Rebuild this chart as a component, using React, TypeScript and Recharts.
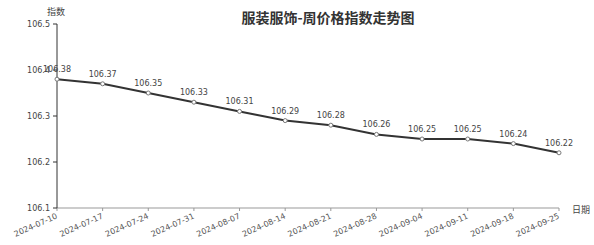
import React from "react"
import { LineChart, Line, XAxis, YAxis, LabelList } from "recharts"

// weekly apparel price index
const dates = [
  "2024-07-10", "2024-07-17", "2024-07-24", "2024-07-31", "2024-08-07", "2024-08-14",
  "2024-08-21", "2024-08-28", "2024-09-04", "2024-09-11", "2024-09-18", "2024-09-25",
]
const indexValues = [106.38, 106.37, 106.35, 106.33, 106.31, 106.29, 106.28, 106.26, 106.25, 106.25, 106.24, 106.22]
const yTicks = [106.1, 106.2, 106.3, 106.4, 106.5]

const data = dates.map((d, i) => ({ date: d, value: indexValues[i] }))

const FONT = "'DejaVu Sans', sans-serif"
const CJK = "'Noto Sans CJK SC', sans-serif"

const DateTick = (props: any) => {
  const { x, y, payload } = props
  return (
    <g transform={`translate(${x + 1},${y + 5})`}>
      <text
        x={0}
        y={0}
        textAnchor="end"
        fontSize={8}
        fontFamily={FONT}
        fill="#555"
        transform="rotate(-24)"
      >
        {payload.value}
      </text>
    </g>
  )
}

export default function App() {
  return (
    <div style={{ position: "absolute", left: 0, top: 0, width: 594, height: 245, background: "#fff" }}>
      <div
        style={{
          position: "absolute", left: 12, width: 632, top: 7, textAlign: "center",
          fontFamily: CJK, fontWeight: 700, fontSize: 14, color: "#333", lineHeight: "20px",
        }}
      >
        服装服饰-周价格指数走势图
      </div>
      <div style={{ position: "absolute", left: 47, top: 5, fontFamily: CJK, fontSize: 9, color: "#444" }}>指数</div>
      <div style={{ position: "absolute", left: 572, top: 203, fontFamily: CJK, fontSize: 9, color: "#444" }}>日期</div>
      <LineChart width={594} height={245} data={data} margin={{ top: 24, right: 35, bottom: 7, left: 7 }}>
        <XAxis
          dataKey="date"
          height={30}
          stroke="#999"
          tickLine={{ stroke: "#999" }}
          tickSize={3}
          interval={0}
          tick={<DateTick />}
        />
        <YAxis
          width={50}
          domain={[106.1, 106.5]}
          ticks={yTicks}
          allowDataOverflow
          stroke="#333"
          tickSize={4}
          tickMargin={3}
          tick={{ fontSize: 8, fontFamily: FONT, fill: "#444" }}
          tickFormatter={(v: number) => v.toFixed(1)}
        />
        <Line
          type="linear"
          dataKey="value"
          stroke="#333"
          strokeWidth={2}
          dot={{ r: 2, fill: "#fff", stroke: "#777", strokeWidth: 1 }}
          isAnimationActive={false}
        >
          <LabelList
            dataKey="value"
            position="top"
            offset={7}
            fontSize={8}
            fontFamily={FONT}
            fill="#444"
            formatter={(v: any) => Number(v).toFixed(2)}
          />
        </Line>
      </LineChart>
    </div>
  )
}
